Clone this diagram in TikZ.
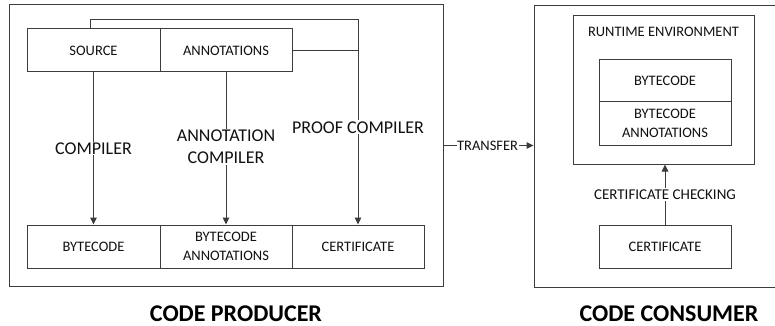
\documentclass[tikz,border=0pt]{standalone}
\usepackage{fontspec}
\setmainfont{Carlito}
\usetikzlibrary{arrows.meta}
\definecolor{ln}{HTML}{3C3C3C}
\definecolor{tx}{HTML}{111111}
\tikzset{
  box/.style={draw=ln, line width=1pt, inner sep=0pt, text=tx, align=center,
    font=\fontsize{14.5}{19}\selectfont},
  frame/.style={draw=ln, line width=1pt, inner sep=0pt},
  conn/.style={draw=ln, line width=1pt},
  arr/.style={conn, -{Triangle[length=7pt,width=6.5pt]}},
  elabel/.style={fill=white, text=tx, inner sep=1pt, align=center,
    font=\fontsize{18}{22}\selectfont},
  slabel/.style={fill=white, text=tx, inner sep=1pt, align=center,
    font=\fontsize{15}{18}\selectfont},
  title/.style={text=black, inner sep=0pt, anchor=base, font=\fontsize{24}{28}\selectfont\bfseries}
}
\begin{document}
\begin{tikzpicture}[x=1pt,y=-1pt]
\clip (0,0) rectangle (775,326);
\fill[white] (0,0) rectangle (775,326);
% producer
\node[frame, minimum width=434, minimum height=281] (prod) at (226,145.5) {};
\node[box, minimum width=133, minimum height=43] (src) at (93.5,50.5) {SOURCE};
\node[box, minimum width=132, minimum height=43] (ann) at (226,50.5) {ANNOTATIONS};
\node[box, minimum width=133, minimum height=43] (byte) at (93.5,246.5) {BYTECODE};
\node[box, minimum width=132, minimum height=43] (bann) at (226,246.5) {BYTECODE\\ANNOTATIONS};
\node[box, minimum width=132, minimum height=43] (cert) at (358,246.5) {CERTIFICATE};
\draw[arr] (src.south) -- node[elabel, pos=0.5] {COMPILER} (byte.north);
\draw[arr] (ann.south) -- node[elabel, pos=0.49] {ANNOTATION\\COMPILER} (bann.north);
\draw[arr] ([xshift=-3pt]src.north) -- ++(0,-9) -| node[elabel, pos=0.763] {PROOF COMPILER} (cert.north);
\draw[conn] (ann.east) -- (ann.east -| cert.north);
\node[title] (tprod) at (236,321.5) {CODE PRODUCER};
% consumer
\node[frame, minimum width=300, minimum height=281] (cons) at (684,146.5) {};
\node[frame, minimum width=181, minimum height=148] (rt) at (663.5,90) {};
\node[slabel, fill=none, font=\fontsize{14.5}{18}\selectfont, anchor=center] (rtl) at (663.5,32) {RUNTIME ENVIRONMENT};
\node[box, minimum width=132, minimum height=42] (byte2) at (665,81) {BYTECODE};
\node[box, minimum width=132, minimum height=43] (bann2) at (665,123.5) {BYTECODE\\ANNOTATIONS};
\node[box, minimum width=132, minimum height=43] (cert2) at (665,246.5) {CERTIFICATE};
\draw[arr] (cert2.north) -- node[slabel, pos=0.5, inner sep=2pt] {CERTIFICATE CHECKING} (cert2.north |- rt.south);
\node[title] (tcons) at (669,321.5) {CODE CONSUMER};
% transfer
\draw[arr] (prod.east) -- node[slabel, pos=0.49, inner sep=0.5pt, font=\fontsize{14.5}{18}\selectfont] {TRANSFER} (prod.east -| cons.west);
\end{tikzpicture}
\end{document}
